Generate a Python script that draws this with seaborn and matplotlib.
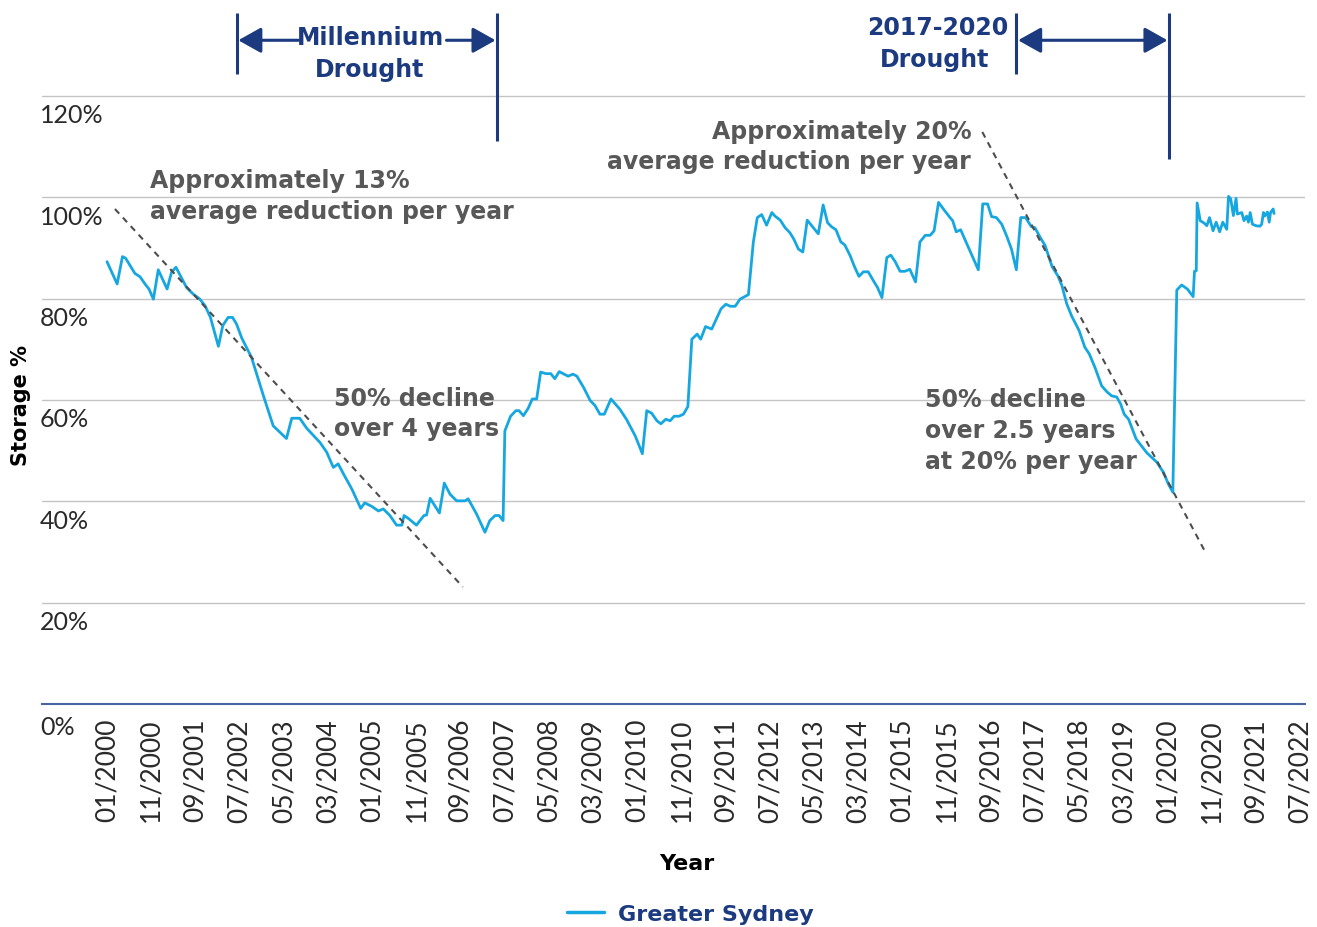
import matplotlib
matplotlib.use("Agg")
import matplotlib.pyplot as plt
import matplotlib.transforms as mtransforms
import pandas as pd
import seaborn as sns

# months since 01/2000 and storage level (%)
months = [
    0, 2.3, 3.5, 4.2, 6.3, 7.5, 8.6, 9.5, 10.5, 11.6, 13.6, 14.6, 15.6, 18.0, 19.5, 20.9,
    22.2, 23.4, 25.2, 26.2, 27.4, 28.4, 29.3, 30.5, 32.7, 35.4, 37.6, 40.6, 41.8, 43.6,
    45.2, 48.2, 49.7, 51.2, 52.3, 53.5, 55.4, 57.4, 58.3, 59.9, 61.4, 62.5, 64.0, 65.5,
    66.7, 67.2, 68.2, 70.0, 71.7, 72.3, 73.1, 75.2, 76.3, 77.6, 79.1, 81.0, 81.7, 83.6,
    85.5, 86.6, 87.8, 88.7, 89.6, 90.0, 91.3, 92.5, 93.2, 94.2, 95.3, 96.2, 97.2, 98.1,
    99.3, 100.4, 101.3, 102.3, 103.4, 104.3, 105.4, 106.3, 107.8, 109.3, 110.4, 111.5,
    112.5, 114.0, 116.0, 117.5, 119.5, 121.1, 122.1, 123.2, 124.4, 125.3, 126.4, 127.4,
    128.3, 129.4, 130.4, 131.4, 132.3, 133.5, 134.3, 135.4, 136.8, 138.9, 140.0, 141.0,
    142.1, 143.2, 145.1, 146.2, 147.1, 148.1, 149.2, 150.4, 151.1, 152.3, 153.4, 154.5,
    155.4, 156.4, 157.4, 158.4, 159.8, 160.9, 162.0, 163.0, 163.9, 164.9, 166.0, 166.9,
    168.1, 169.1, 170.1, 171.1, 172.2, 173.4, 174.3, 175.3, 176.4, 177.3, 178.3, 179.4,
    180.5, 181.6, 182.9, 183.9, 185.1, 186.2, 187.1, 188.1, 189.2, 190.7, 191.3, 192.1,
    193.1, 197.1, 198.1, 199.2, 200.1, 201.2, 202.4, 203.5, 204.6, 205.7, 206.7, 207.8,
    209.1, 209.9, 211.1, 212.2, 213.8, 215.1, 216.0, 217.1, 218.2, 219.9, 221.2, 222.2,
    223.5, 225.0, 226.2, 227.3, 228.4, 229.3, 230.1, 231.1, 232.8, 235.2, 237.5, 239.0,
    240.1, 241.1, 242.0, 243.1, 244.4, 245.7, 246.0, 246.4, 246.6, 247.3, 248.2, 248.8,
    249.4, 250.2, 250.9, 251.7, 252.4, 253.3, 253.7, 254.2, 254.8, 255.4, 255.7, 256.7,
    257.2, 257.8, 258.2, 258.6, 259.1, 259.9, 260.8, 261.2, 261.6, 261.9, 262.5, 262.9,
    263.2, 263.8, 264.0,
]
storage = [
    87.3, 82.9, 88.3, 88.0, 85.0, 84.3, 82.9, 81.9, 79.9, 85.7, 81.9, 85.2, 86.2, 82.2, 80.9, 80.0,
    78.6, 76.3, 70.6, 74.7, 76.3, 76.3, 75.0, 72.2, 68.4, 60.8, 54.9, 52.4, 56.4, 56.4,
    54.4, 51.6, 49.7, 46.7, 47.4, 45.4, 42.4, 38.6, 39.7, 39.0, 38.1, 38.5, 37.2, 35.3,
    35.3, 37.2, 36.6, 35.3, 37.2, 37.3, 40.6, 37.7, 43.6, 41.4, 40.1, 40.1, 40.5, 37.5,
    33.9, 36.2, 37.2, 37.2, 36.2, 53.9, 56.8, 57.9, 57.9, 56.9, 58.4, 60.2, 60.2, 65.5,
    65.2, 65.2, 64.2, 65.6, 65.1, 64.7, 65.1, 64.7, 62.5, 59.9, 58.9, 57.2,
    57.2, 60.2, 58.2, 56.2, 52.9, 49.4, 57.9, 57.4, 55.9, 55.3, 56.2, 55.9,
    56.8, 56.8, 57.2, 58.7, 72.0, 73.0, 72.0, 74.5, 74.0, 78.0, 78.9, 78.5,
    78.5, 79.9, 80.8, 91.1, 96.0, 96.6, 94.5, 97.0, 96.3, 95.5, 94.0, 93.0,
    91.7, 89.8, 89.2, 95.5, 94.0, 92.8, 98.5, 95.0, 94.2, 93.6, 91.2, 90.6,
    88.5, 86.3, 84.4, 85.3, 85.3, 83.5, 82.2, 80.2, 88.1, 88.6, 87.3, 85.4,
    85.4, 85.8, 83.3, 91.2, 92.5, 92.5, 93.4, 99.0, 97.7, 96.0, 95.4, 93.2,
    93.6, 85.7, 98.7, 98.7, 96.2, 96.0, 94.7, 92.4, 89.8, 85.7, 96.0, 96.0,
    94.2, 94.0, 92.1, 90.5, 86.3, 84.5, 82.6, 79.0, 76.6, 73.7, 70.4, 69.1,
    66.4, 62.8, 61.6, 60.8, 60.6, 59.2, 57.2, 56.2, 52.3, 49.6, 47.7, 45.7,
    43.4, 41.8, 81.7, 82.7, 81.9, 80.4, 85.4, 85.5, 98.9, 95.4, 94.9, 94.4,
    96.0, 93.4, 95.1, 93.2, 95.1, 93.7, 100.2, 99.7, 96.4, 99.8, 96.7, 97.0,
    95.4, 96.3, 95.1, 97.0, 94.7, 94.4, 94.3, 94.7, 97.0, 96.3, 97.1, 95.1,
    97.0, 97.7, 96.8,
]

tick_months = list(range(0, 271, 10))
tick_labels = [
    "01/2000", "11/2000", "09/2001", "07/2002", "05/2003", "03/2004", "01/2005",
    "11/2005", "09/2006", "07/2007", "05/2008", "03/2009", "01/2010", "11/2010",
    "09/2011", "07/2012", "05/2013", "03/2014", "01/2015", "11/2015", "09/2016",
    "07/2017", "05/2018", "03/2019", "01/2020", "11/2020", "09/2021", "07/2022",
]
y_ticks = [0, 20, 40, 60, 80, 100, 120]

# trend lines drawn on the chart (month, %)
trend_13_months = [1.8, 80.5]
trend_13_values = [97.7, 23.1]
trend_20_months = [198.0, 248.2]
trend_20_values = [112.9, 30.4]

LINE_BLUE = "#17a7e0"
NAVY = "#1b3a80"
AXIS_BLUE = "#4565a5"
NOTE_GREY = "#585858"
TICK_FONT = ["Lato", "DejaVu Sans"]

df = pd.DataFrame({"month": months, "storage": storage})

sns.set_style("white")
plt.rcParams["font.family"] = ["DejaVu Sans"]

fig = plt.figure(figsize=(13.17, 9.28), dpi=100)
ax = fig.add_axes([42 / 1317, 223 / 928, 1263 / 1317, 699.2 / 928])

sns.lineplot(data=df, x="month", y="storage", color=LINE_BLUE, linewidth=2.0,
             ax=ax, label="Greater Sydney", zorder=3)

ax.plot(trend_13_months, trend_13_values, color="#4d4d4d", lw=1.5,
        linestyle=(0, (3, 2.6)), zorder=4)
ax.plot(trend_20_months, trend_20_values, color="#4d4d4d", lw=1.5,
        linestyle=(0, (3, 2.6)), zorder=4)

ax.set_xlim(-14.7, 271.0)
ax.set_ylim(0, 138)
ax.set_yticks(y_ticks)
ax.set_yticklabels([])
ax.tick_params(axis="y", length=0)
ax.grid(axis="y", color="#c4c4c4", lw=1.0)
ax.grid(axis="x", visible=False)
for side in ["top", "right", "left"]:
    ax.spines[side].set_visible(False)
ax.spines["bottom"].set_color(AXIS_BLUE)
ax.spines["bottom"].set_linewidth(1.5)
ax.spines["bottom"].set_zorder(5)

ax.set_xticks(tick_months)
ax.set_xticklabels(tick_labels, rotation=90, fontsize=19, color="#2a2a2a",
                   family=TICK_FONT, fontweight="normal")
ax.tick_params(axis="x", direction="out", length=6, width=1.5, color=AXIS_BLUE, pad=4)

# y tick labels sit just under each gridline
ytrans = mtransforms.blended_transform_factory(ax.transAxes, ax.transData)
ytrans = mtransforms.offset_copy(ytrans, fig=fig, x=0, y=-19, units="dots")
for v in y_ticks:
    ax.text(-2 / 1263, v - (0.6 if v == 0 else 0), f"{v}%", transform=ytrans,
            ha="left", va="center", fontsize=18, color="#2a2a2a",
            family=TICK_FONT, fontweight="normal")

ax.set_ylabel("Storage %", fontsize=15, fontweight="bold", color="black")
ax.yaxis.set_label_coords(-11 / 1263, 0.429)
ax.set_xlabel("Year", fontsize=16, fontweight="bold", color="black")
ax.xaxis.set_label_coords(0.5107, -0.2274)
ax.xaxis.label.set_va("center")

# drought markers
ax.vlines([29.4], 124.3, 136.4, color=NAVY, lw=2.2)
ax.vlines([88.2], 111.1, 136.4, color=NAVY, lw=2.2)
ax.vlines([205.7], 124.3, 136.4, color=NAVY, lw=2.2)
ax.vlines([240.3], 107.5, 136.4, color=NAVY, lw=2.2)
arrow = dict(arrowstyle="-|>,head_length=0.5,head_width=0.28", color=NAVY, lw=2.2,
             mutation_scale=28, shrinkA=0, shrinkB=0)
ax.annotate("", xy=(29.7, 131.0), xytext=(43.3, 131.0), arrowprops=arrow)
ax.annotate("", xy=(87.9, 131.0), xytext=(76.8, 131.0), arrowprops=arrow)
ax.annotate("", xy=(239.9, 131.0), xytext=(206.1, 131.0),
            arrowprops=dict(arrow, arrowstyle="<|-|>,head_length=0.5,head_width=0.28"))
ax.text(59.5, 128.5, "Millennium\nDrought", ha="center", va="center", fontsize=17,
        fontweight="bold", color=NAVY, linespacing=1.4)
ax.text(203.8, 133.6, "2017-2020", ha="right", va="center", fontsize=17,
        fontweight="bold", color=NAVY)
ax.text(187.3, 127.3, "Drought", ha="center", va="center", fontsize=17,
        fontweight="bold", color=NAVY)

# notes
note = dict(fontsize=17, fontweight="bold", color=NOTE_GREY, linespacing=1.35)
ax.text(9.7, 100.4, "Approximately 13%\naverage reduction per year", ha="left",
        va="center", **note)
ax.text(195.5, 110.1, "Approximately 20%\naverage reduction per year", ha="right",
        va="center", **note)
ax.text(51.4, 57.4, "50% decline\nover 4 years", ha="left", va="center", **note)
ax.text(185.1, 54.1, "50% decline\nover 2.5 years\nat 20% per year", ha="left",
        va="center", **note)

leg = ax.legend(loc="center", bbox_to_anchor=(0.524, 0.014), bbox_transform=fig.transFigure,
                frameon=False, fontsize=16, handlelength=1.7, handletextpad=0.6)
for t in leg.get_texts():
    t.set_color(NAVY)
    t.set_fontweight("bold")
for h in leg.get_lines():
    h.set_linewidth(2.5)

fig.savefig("out.png", dpi=100)
